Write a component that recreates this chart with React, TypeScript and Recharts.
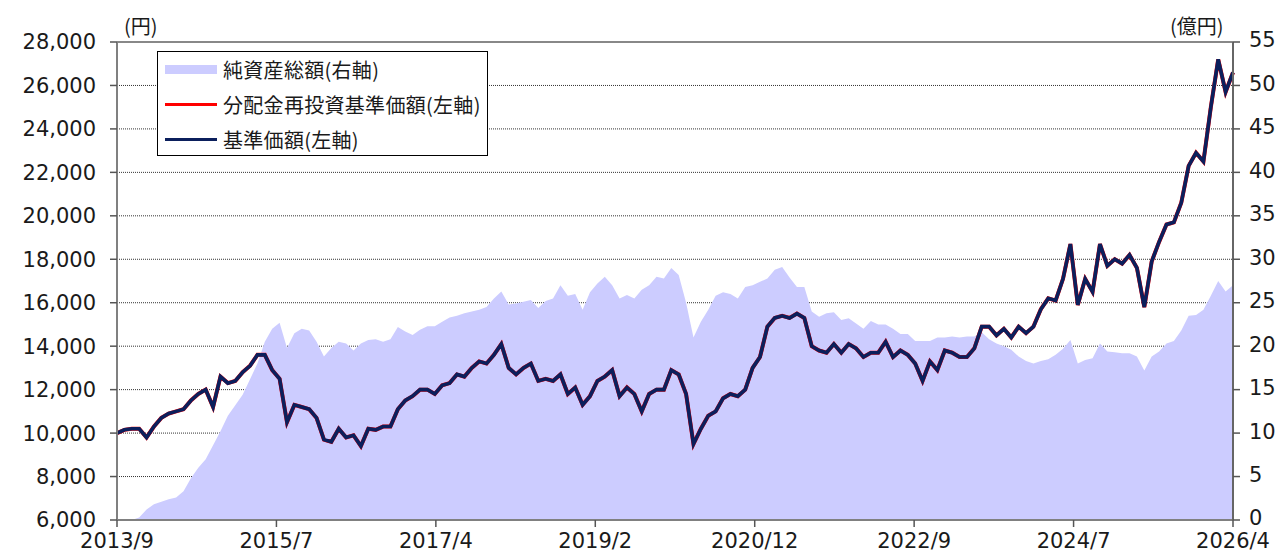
import React from 'react';
import { ComposedChart, Area, Line, XAxis, YAxis, CartesianGrid, ReferenceLine } from 'recharts';

// Monthly points from 2013/9 to 2026/4
const startYear = 2013;
const startMonth = 9;

// 基準価額 (円), left axis
const navValues = [
  10000, 10150, 10200, 10200, 9800, 10300, 10700, 10900, 11000, 11100,
  11500, 11800, 12000, 11200, 12600, 12300, 12400, 12800, 13100, 13600,
  13600, 12900, 12500, 10500, 11300, 11200, 11100, 10700, 9700, 9600,
  10200, 9800, 9900, 9400, 10200, 10150, 10300, 10300, 11100, 11500,
  11700, 12000, 12000, 11800, 12200, 12300, 12700, 12600, 13000, 13300,
  13200, 13600, 14100, 13000, 12700, 13000, 13200, 12400, 12500, 12400,
  12700, 11800, 12100, 11300, 11700, 12400, 12600, 12900, 11700, 12100,
  11800, 11000, 11800, 12000, 12000, 12900, 12700, 11800, 9500, 10200,
  10800, 11000, 11600, 11800, 11700, 12000, 13000, 13500, 14900, 15300,
  15400, 15300, 15500, 15300, 14000, 13800, 13700, 14100, 13700, 14100,
  13900, 13500, 13700, 13700, 14200, 13500, 13800, 13600, 13200, 12400,
  13300, 12900, 13800, 13700, 13500, 13500, 13900, 14900, 14900, 14500,
  14800, 14400, 14900, 14600, 14900, 15700, 16200, 16100, 17100, 18700,
  15900, 17100, 16500, 18700, 17700, 18000, 17800, 18200, 17600, 15800,
  17900, 18800, 19600, 19700, 20600, 22300, 22900, 22500, 25000, 27200,
  25700, 26600,
];

// 分配金再投資基準価額 (円), left axis — no distributions, identical to NAV
const reinvestedValues = navValues.slice();

// 純資産総額 (億円), right axis
const netAssets = [
  0, 0, 0, 0.3, 1.2, 1.8, 2.1, 2.4, 2.6, 3.3,
  4.8, 6.0, 7.0, 8.6, 10.2, 12.0, 13.2, 14.4, 16.2, 18.0,
  20.5, 22.0, 22.7, 19.8, 21.5, 22.0, 21.8, 20.5, 18.8, 19.8,
  20.5, 20.3, 19.5, 20.3, 20.7, 20.8, 20.5, 20.8, 22.2, 21.7,
  21.3, 21.9, 22.3, 22.3, 22.8, 23.3, 23.5, 23.8, 24.0, 24.2,
  24.5, 25.5, 26.3, 24.8, 24.9, 25.1, 25.3, 24.4, 25.2, 25.5,
  27.0, 25.8, 26.0, 24.2, 26.2, 27.2, 28.0, 27.0, 25.5, 25.9,
  25.5, 26.5, 27.0, 28.0, 27.8, 29.0, 28.2, 25.0, 21.0, 22.8,
  24.2, 25.8, 26.2, 26.0, 25.5, 26.8, 27.0, 27.4, 27.8, 28.8,
  29.1, 27.9, 26.8, 26.8, 24.0, 23.4, 23.8, 23.9, 23.0, 23.2,
  22.6, 22.0, 22.9, 22.5, 22.5, 22.0, 21.4, 21.4, 20.6, 20.6,
  20.6, 21.0, 21.0, 21.1, 21.0, 21.1, 21.1, 21.6, 20.8, 20.3,
  20.0, 19.6, 18.8, 18.3, 18.0, 18.3, 18.5, 19.0, 19.7, 20.7,
  18.0, 18.4, 18.6, 20.3, 19.4, 19.3, 19.2, 19.2, 18.8, 17.2,
  18.8, 19.4, 20.3, 20.6, 21.8, 23.5, 23.6, 24.2, 25.8, 27.5,
  26.3, 27.0,
];

const xTickLabels = ['2013/9', '2015/7', '2017/4', '2019/2', '2020/12', '2022/9', '2024/7', '2026/4'];
const leftTicks = [6000, 8000, 10000, 12000, 14000, 16000, 18000, 20000, 22000, 24000, 26000, 28000];
const rightTicks = [0, 5, 10, 15, 20, 25, 30, 35, 40, 45, 50, 55];

const legendItems = ['純資産総額(右軸)', '分配金再投資基準価額(左軸)', '基準価額(左軸)'];

const data = navValues.map((v, i) => {
  const total = startMonth - 1 + i;
  return {
    idx: i,
    month: `${startYear + Math.floor(total / 12)}/${(total % 12) + 1}`,
    nav: v,
    reinvested: reinvestedValues[i],
    assets: netAssets[i],
  };
});

const lastIdx = data.length - 1;
const step = lastIdx / (xTickLabels.length - 1);
const xTicks = xTickLabels.map((_, k) => k * step);

const tickFont = { fontSize: 21, fill: '#1a1a1a', fontFamily: 'DejaVu Sans, Verdana, sans-serif' };
const jpFont = '"Noto Sans CJK JP", "Noto Sans", sans-serif';

export default function App() {
  return (
    <div style={{ position: 'absolute', left: 0, top: 0, width: 1281, height: 552, background: '#fff', overflow: 'hidden' }}>
      <ComposedChart
        width={1281}
        height={552}
        data={data}
        margin={{ top: 42, right: 8, bottom: 0, left: 0 }}
      >
        <CartesianGrid vertical={false} stroke="#333" strokeDasharray="1 1" strokeWidth={1} />
        <XAxis
          dataKey="idx"
          type="number"
          domain={[0, lastIdx]}
          ticks={xTicks}
          interval={0}
          tickFormatter={(v: number) => xTickLabels[Math.round(v / step)]}
          height={32}
          tickSize={7}
          tickMargin={6}
          tick={tickFont}
          axisLine={{ stroke: '#808080', strokeWidth: 2 }}
          tickLine={{ stroke: '#555', strokeWidth: 1.5 }}
        />
        <YAxis
          domain={[6000, 28000]}
          ticks={leftTicks}
          interval={0}
          width={117}
          tickFormatter={(v: number) => v.toLocaleString('en-US')}
          tickSize={7}
          tickMargin={14}
          tick={tickFont}
          axisLine={{ stroke: '#808080', strokeWidth: 2 }}
          tickLine={{ stroke: '#555', strokeWidth: 1.5 }}
        />
        <YAxis
          yAxisId="right"
          orientation="right"
          domain={[0, 55]}
          ticks={rightTicks}
          interval={0}
          width={40}
          tickSize={7}
          tickMargin={9}
          tick={{ ...tickFont, dy: -2 }}
          axisLine={{ stroke: '#666', strokeWidth: 2 }}
          tickLine={{ stroke: '#555', strokeWidth: 1.5 }}
        />
        <Area
          yAxisId="right"
          type="linear"
          dataKey="assets"
          fill="#CCCCFF"
          fillOpacity={1}
          stroke="none"
          isAnimationActive={false}
        />
        <Line
          type="linear"
          dataKey="reinvested"
          stroke="#FF0000"
          strokeWidth={4}
          dot={false}
          isAnimationActive={false}
        />
        <Line
          type="linear"
          dataKey="nav"
          stroke="#0B1F5C"
          strokeWidth={3.6}
          dot={false}
          isAnimationActive={false}
        />
        <ReferenceLine y={28000} stroke="#888" strokeWidth={2} />
      </ComposedChart>

      <div style={{ position: 'absolute', left: 124, top: 12, fontSize: 20, fontFamily: jpFont, color: '#1a1a1a', lineHeight: '28px' }}>(円)</div>
      <div style={{ position: 'absolute', left: 1170, top: 12, fontSize: 20, fontFamily: jpFont, color: '#1a1a1a', lineHeight: '28px' }}>(億円)</div>

      <div
        style={{
          position: 'absolute',
          left: 157,
          top: 51,
          width: 331,
          height: 105,
          boxSizing: 'border-box',
          border: '1px solid #000',
          background: '#fff',
          fontFamily: jpFont,
          fontSize: 20,
          color: '#1a1a1a',
        }}
      >
        {legendItems.map((label, i) => (
          <div key={label} style={{ position: 'absolute', left: 7, top: 2 + i * 35, height: 30, display: 'flex', alignItems: 'center', whiteSpace: 'nowrap' }}>
            {i === 0 ? (
              <div style={{ width: 52, height: 9, background: '#CCCCFF' }} />
            ) : (
              <div style={{ width: 52, height: 3, background: i === 1 ? '#FF0000' : '#0B1F5C' }} />
            )}
            <span style={{ marginLeft: 6, letterSpacing: 0.3 }}>{label}</span>
          </div>
        ))}
      </div>
    </div>
  );
}
